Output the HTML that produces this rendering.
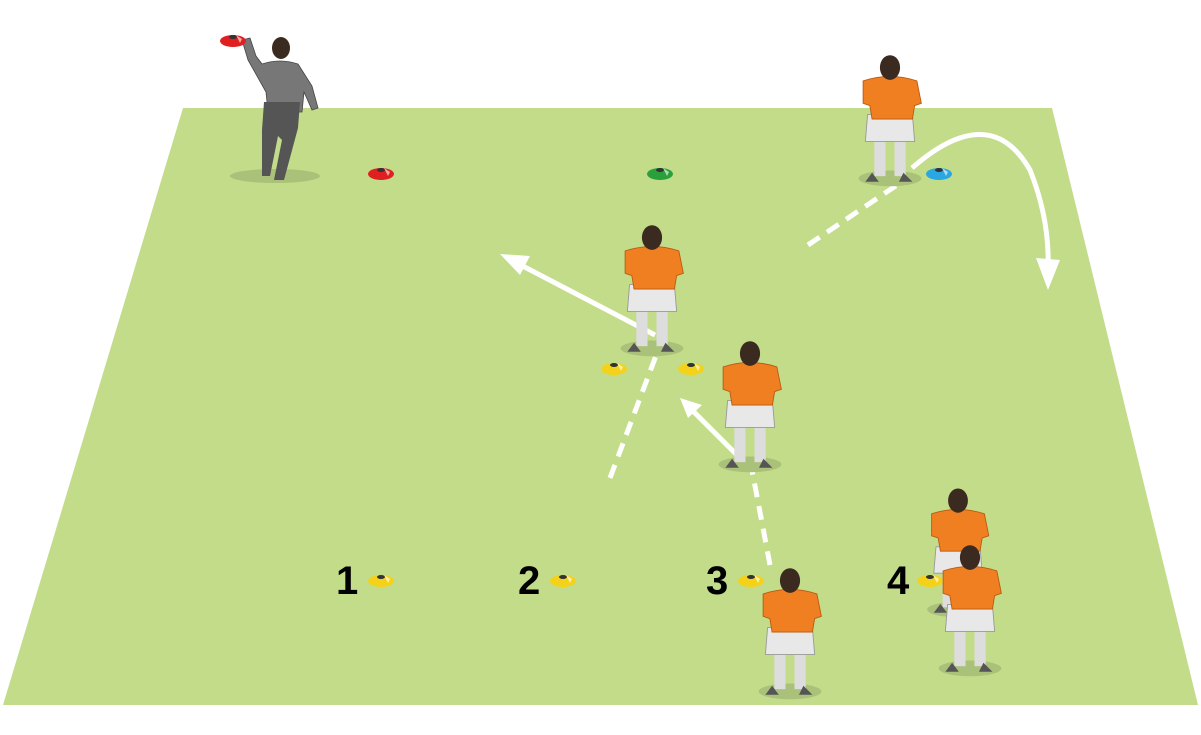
<!DOCTYPE html>
<html><head><meta charset="utf-8"><style>
html,body{margin:0;padding:0;background:#fff;}
svg{display:block;}
text{font-family:"Liberation Sans",Arial,sans-serif;font-weight:bold;}
</style></head><body>
<svg width="1201" height="735" viewBox="0 0 1201 735" xmlns="http://www.w3.org/2000/svg">
<defs>
<g id="pl">
 <ellipse cx="0" cy="95" rx="28" ry="7" fill="#a9c178"/>
 <rect x="-14" y="55" width="10" height="38" fill="#ddd"/>
 <rect x="4" y="55" width="10" height="38" fill="#ddd"/>
 <path d="M-16 90 l-6 8 h12 z M12 90 l-4 8 h12 z" fill="#555"/>
 <path d="M-20 38 h40 l2 24 h-44 z" fill="#e8e8e8" stroke="#999" stroke-width="0.8"/>
 <path d="M-24 8 q24 -8 48 0 l4 20 l-6 2 l-2 12 h-36 l-2 -12 l-6 -2 z" fill="#f07f22" stroke="#b85a10" stroke-width="0.8"/>
 <ellipse cx="0" cy="-4" rx="9" ry="11" fill="#3a2a20"/>
</g>
<g id="cone">
 <ellipse cx="0" cy="3" rx="13" ry="6" fill="currentColor"/>
 <path d="M-8 2 q8 -10 16 0 z" fill="currentColor"/>
 <ellipse cx="0" cy="-1" rx="4" ry="2" fill="#333"/>
 <path d="M3 -3 l6 4 l-2 4 z" fill="#fff" opacity="0.6"/>
</g>
</defs>
<polygon points="183,108 1052,108 1198,705 3,705" fill="#c2dc8a"/>

<!-- coach -->
<ellipse cx="275" cy="176" rx="45" ry="7" fill="#a9c178"/>
<path d="M262 64 q18 -6 36 0 l14 22 l6 22 l-6 2 l-8 -18 l-2 20 h-34 l-2 -20 l-18 -32 l-6 -20 l8 -2 l6 18 z" fill="#777" stroke="#444" stroke-width="0.8"/>
<path d="M264 102 h36 l-2 26 l-14 52 h-10 l8 -40 l-4 -4 l-8 40 h-8 l0 -46 z" fill="#555"/>
<ellipse cx="281" cy="48" rx="9" ry="11" fill="#3a2a20"/>
<g transform="translate(233,38)" color="#e02020"><use href="#cone"/></g>

<!-- cones -->
<g transform="translate(381,171)" color="#e02020"><use href="#cone"/></g>
<g transform="translate(660,171)" color="#2aa03a"><use href="#cone"/></g>
<g transform="translate(939,171)" color="#2aa7e0"><use href="#cone"/></g>
<g transform="translate(614,366)" color="#f5d21a"><use href="#cone"/></g>
<g transform="translate(691,366)" color="#f5d21a"><use href="#cone"/></g>
<g transform="translate(381,578)" color="#f5d21a"><use href="#cone"/></g>
<g transform="translate(563,578)" color="#f5d21a"><use href="#cone"/></g>
<g transform="translate(751,578)" color="#f5d21a"><use href="#cone"/></g>
<g transform="translate(930,578)" color="#f5d21a"><use href="#cone"/></g>

<text x="336" y="594" font-size="40">1</text>
<text x="518" y="594" font-size="40">2</text>
<text x="706" y="594" font-size="40">3</text>
<text x="887" y="594" font-size="40">4</text>

<!-- arrows -->
<g stroke="#fff" stroke-width="5" fill="none">
 <line x1="655" y1="335" x2="515" y2="262"/>
 <line x1="610" y1="478" x2="660" y2="345" stroke-dasharray="14,9"/>
 <line x1="808" y1="245" x2="900" y2="183" stroke-dasharray="14,9"/>
 <path d="M912 168 Q990 100 1030 170 Q1050 220 1048 270"/>
 <line x1="740" y1="458" x2="690" y2="408"/>
 <line x1="770" y1="565" x2="752" y2="470" stroke-dasharray="14,9"/>
</g>
<g fill="#fff">
 <polygon points="500,254 530,256 520,275"/>
 <polygon points="680,398 702,405 688,418"/>
 <polygon points="1048,290 1036,258 1060,260"/>
</g>

<!-- players -->
<g transform="translate(890,72) scale(1.12)"><use href="#pl"/></g>
<g transform="translate(652,242) scale(1.12)"><use href="#pl"/></g>
<g transform="translate(750,358) scale(1.12)"><use href="#pl"/></g>
<g transform="translate(958,505) scale(1.1)"><use href="#pl"/></g>
<g transform="translate(970,562) scale(1.12)"><use href="#pl"/></g>
<g transform="translate(790,585) scale(1.12)"><use href="#pl"/></g>
</svg>
</body></html>
